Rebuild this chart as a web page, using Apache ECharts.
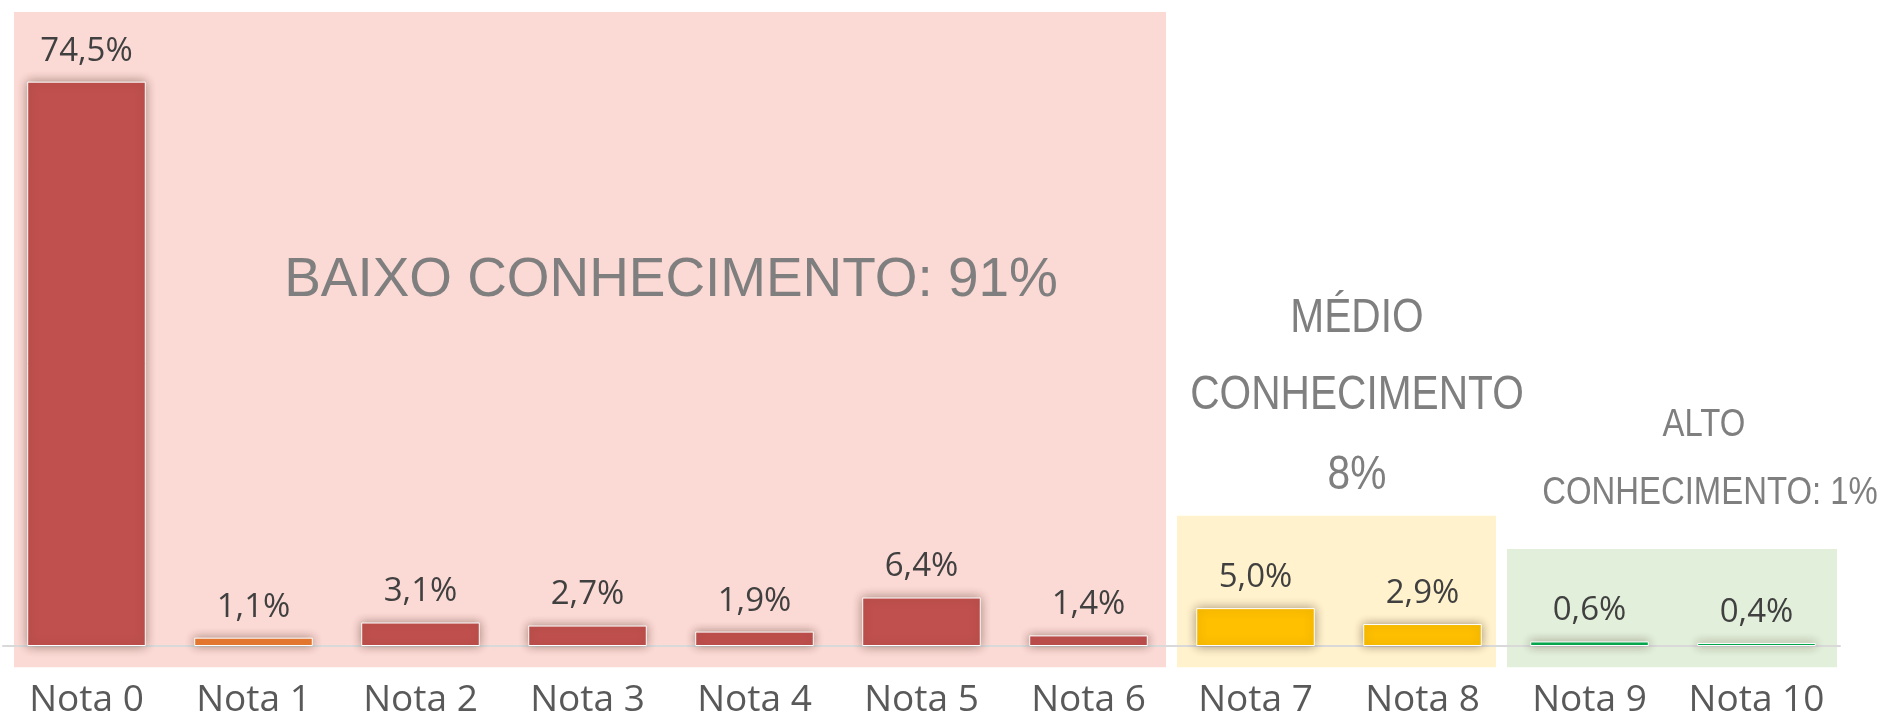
<!DOCTYPE html>
<html>
<head>
<meta charset="utf-8">
<title>Notas</title>
<script src="https://cdn.jsdelivr.net/npm/echarts@6/dist/echarts.min.js"></script>
<style>
  html, body { margin: 0; padding: 0; background: #fff; }
  #chart { width: 1883px; height: 721px; }
</style>
</head>
<body>
<div id="chart"></div>
<script>
const categories = ["Nota 0", "Nota 1", "Nota 2", "Nota 3", "Nota 4", "Nota 5", "Nota 6", "Nota 7", "Nota 8", "Nota 9", "Nota 10"];
const notaValues = [74.5, 1.1, 3.1, 2.7, 1.9, 6.4, 1.4, 5.0, 2.9, 0.6, 0.4];
const barColors = ["#C0504D", "#ED7D31", "#C0504D", "#C0504D", "#C0504D", "#C0504D", "#C0504D", "#FFC000", "#FFC000", "#00B050", "#00B050"];

// knowledge zones: first/last category index, top value of the shaded box
const zoneStart = [0, 7, 9];
const zoneEnd = [6, 8, 10];
const zoneTop = [83.7, 17.2, 12.8];
const zoneColors = ["#FBD9D4", "#FFF2CC", "#E2EFDA"];

const chart = echarts.init(document.getElementById("chart"));

chart.setOption({
  animation: false,
  grid: { left: 3, right: 43, top: 40, bottom: 75, containLabel: false },
  xAxis: {
    type: "category",
    data: categories,
    axisLine: { lineStyle: { color: "#D9D9D9", width: 2 } },
    axisTick: { show: false },
    axisLabel: {
      fontFamily: "Open Sans",
      fontSize: 37,
      color: "#595959",
      margin: 36,
      interval: 0,
    },
  },
  yAxis: {
    type: "value",
    min: 0,
    max: 80,
    show: false,
    splitLine: { show: false },
  },
  series: [
    {
      type: "bar",
      barWidth: "71%",
      z: 5,
      data: notaValues.map((v, i) => ({
        value: v,
        itemStyle: { color: barColors[i] },
      })),
      itemStyle: {
        borderColor: "#ffffff",
        borderWidth: 1,
        shadowBlur: 10,
        shadowColor: "rgba(60, 30, 20, 0.45)",
      },
      label: {
        show: true,
        position: "top",
        distance: 14,
        fontFamily: "Open Sans",
        fontSize: 33,
        color: "#404040",
        formatter: (p) => p.value.toFixed(1).replace(".", ",") + "%",
      },
    },
  ],
});

// shaded boxes behind each group, placed through the axes
const padL = [11, 5, 1];
const padR = [6, 10, 3];
const half = (chart.convertToPixel({ gridIndex: 0 }, [1, 0])[0] - chart.convertToPixel({ gridIndex: 0 }, [0, 0])[0]) / 2;
const bottomY = chart.convertToPixel({ gridIndex: 0 }, [0, -2.8])[1];

const boxes = zoneStart.map((s, i) => {
  const left = chart.convertToPixel({ gridIndex: 0 }, [s, 0])[0] - half + padL[i];
  const right = chart.convertToPixel({ gridIndex: 0 }, [zoneEnd[i], 0])[0] + half - padR[i];
  const top = chart.convertToPixel({ gridIndex: 0 }, [s, zoneTop[i]])[1];
  return {
    type: "rect",
    z: -10,
    shape: { x: left, y: top, width: right - left, height: bottomY - top },
    style: { fill: zoneColors[i] },
  };
});

const txt = (text, x, y, size, sx) => ({
  type: "text",
  x: x,
  y: y,
  scaleX: sx,
  z: 1,
  style: {
    text: text,
    fontFamily: "Liberation Sans",
    fontSize: size,
    fill: "#7F7F7F",
    align: "center",
    verticalAlign: "middle",
  },
});

chart.setOption({
  graphic: boxes.concat([
    txt("BAIXO CONHECIMENTO: 91%", 671, 281, 56, 0.98),
    txt("MÉDIO", 1357, 318, 49, 0.83),
    txt("CONHECIMENTO", 1357, 395, 49, 0.83),
    txt("8%", 1357, 475, 49, 0.83),
    txt("ALTO", 1704, 426, 38, 0.865),
    txt("CONHECIMENTO: 1%", 1710, 494, 38, 0.865),
  ]),
});
</script>
</body>
</html>
